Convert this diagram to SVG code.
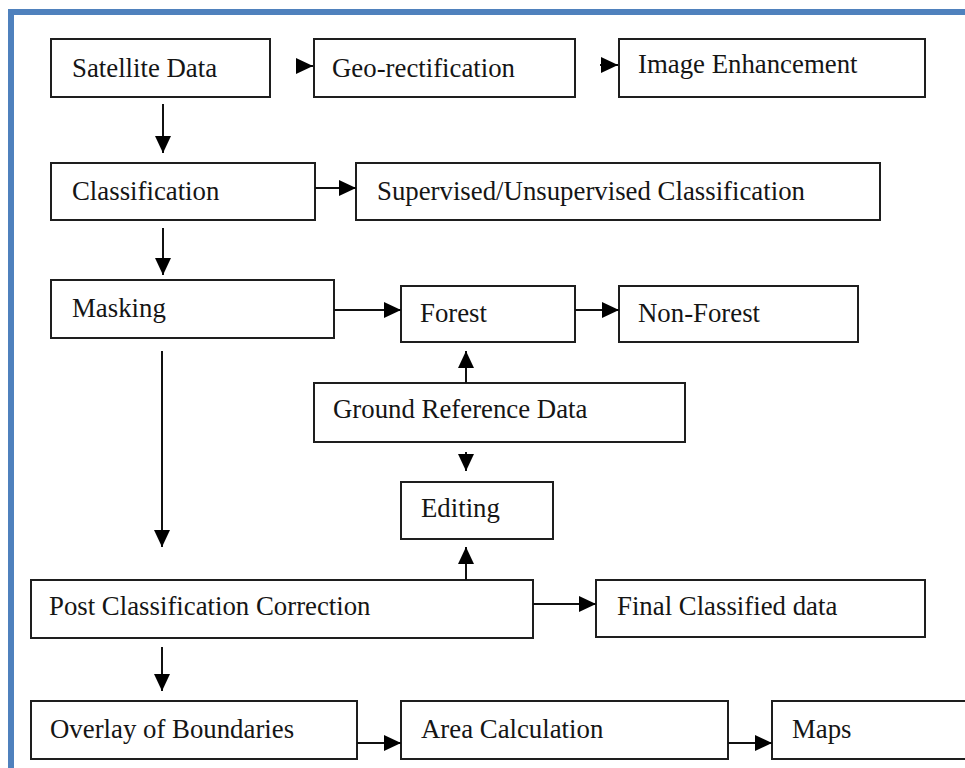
<svg xmlns="http://www.w3.org/2000/svg" width="965" height="768" viewBox="0 0 965 768">
<style>
.box{fill:#fff;stroke:#1e1e1e;stroke-width:2}
.lbl{font-family:"Liberation Serif","Times New Roman",serif;font-size:26.8px;fill:#151515}
.con{stroke:#111;stroke-width:2;fill:none}
.frame{stroke:#4f81bd;stroke-width:6;fill:none}
</style>
<defs>
<marker id="ah" markerUnits="userSpaceOnUse" markerWidth="18" markerHeight="16" refX="17" refY="8" orient="auto" viewBox="0 0 18 16">
<path d="M0,0 L17,8 L0,16 Z" fill="#000"/>
</marker>
</defs>
<rect width="965" height="768" fill="#fff"/>
<path class="frame" d="M11,768 V12 H965"/>

<g id="n-satellite"><rect class="box" x="51" y="39" width="219" height="58"/><text class="lbl" x="72" y="77">Satellite Data</text></g>
<g id="n-geo"><rect class="box" x="314" y="39" width="261" height="58"/><text class="lbl" x="332" y="77">Geo-rectification</text></g>
<g id="n-enh"><rect class="box" x="619" y="39" width="306" height="58"/><text class="lbl" x="638" y="73">Image Enhancement</text></g>
<g id="n-class"><rect class="box" x="51" y="163" width="264" height="57"/><text class="lbl" x="72" y="200">Classification</text></g>
<g id="n-sup"><rect class="box" x="356" y="163" width="524" height="57"/><text class="lbl" x="377" y="200">Supervised/Unsupervised Classification</text></g>
<g id="n-mask"><rect class="box" x="51" y="280" width="283" height="58"/><text class="lbl" x="72" y="317">Masking</text></g>
<g id="n-forest"><rect class="box" x="401" y="286" width="174" height="56"/><text class="lbl" x="420" y="322">Forest</text></g>
<g id="n-nonforest"><rect class="box" x="619" y="286" width="239" height="56"/><text class="lbl" x="638" y="322">Non-Forest</text></g>
<g id="n-ground"><rect class="box" x="314" y="383" width="371" height="59"/><text class="lbl" x="333" y="418">Ground Reference Data</text></g>
<g id="n-editing"><rect class="box" x="401" y="482" width="152" height="57"/><text class="lbl" x="421" y="517">Editing</text></g>
<g id="n-post"><rect class="box" x="31" y="580" width="502" height="58"/><text class="lbl" x="49" y="615">Post Classification Correction</text></g>
<g id="n-final"><rect class="box" x="596" y="580" width="329" height="57"/><text class="lbl" x="617" y="615">Final Classified data</text></g>
<g id="n-overlay"><rect class="box" x="31" y="701" width="326" height="58"/><text class="lbl" x="50" y="738">Overlay of Boundaries</text></g>
<g id="n-area"><rect class="box" x="401" y="701" width="327" height="58"/><text class="lbl" x="421" y="738">Area Calculation</text></g>
<g id="n-maps"><rect class="box" x="772" y="701" width="200" height="58"/><text class="lbl" x="792" y="738">Maps</text></g>

<g id="connectors">
<line class="con" x1="296" y1="66" x2="313" y2="66" marker-end="url(#ah)"/>
<line class="con" x1="600" y1="65" x2="618" y2="65" marker-end="url(#ah)"/>
<line class="con" x1="163" y1="104" x2="163" y2="153" marker-end="url(#ah)"/>
<line class="con" x1="315" y1="188" x2="356" y2="188" marker-end="url(#ah)"/>
<line class="con" x1="163" y1="228" x2="163" y2="275" marker-end="url(#ah)"/>
<line class="con" x1="334" y1="310" x2="401" y2="310" marker-end="url(#ah)"/>
<line class="con" x1="575" y1="310" x2="619" y2="310" marker-end="url(#ah)"/>
<line class="con" x1="466" y1="383" x2="466" y2="351" marker-end="url(#ah)"/>
<line class="con" x1="466" y1="452" x2="466" y2="471" marker-end="url(#ah)"/>
<line class="con" x1="466" y1="580" x2="466" y2="547" marker-end="url(#ah)"/>
<line class="con" x1="162" y1="351" x2="162" y2="547" marker-end="url(#ah)"/>
<line class="con" x1="533" y1="604" x2="596" y2="604" marker-end="url(#ah)"/>
<line class="con" x1="162" y1="647" x2="162" y2="691" marker-end="url(#ah)"/>
<line class="con" x1="357" y1="743" x2="401" y2="743" marker-end="url(#ah)"/>
<line class="con" x1="728" y1="743" x2="772" y2="743" marker-end="url(#ah)"/>
</g>
</svg>
